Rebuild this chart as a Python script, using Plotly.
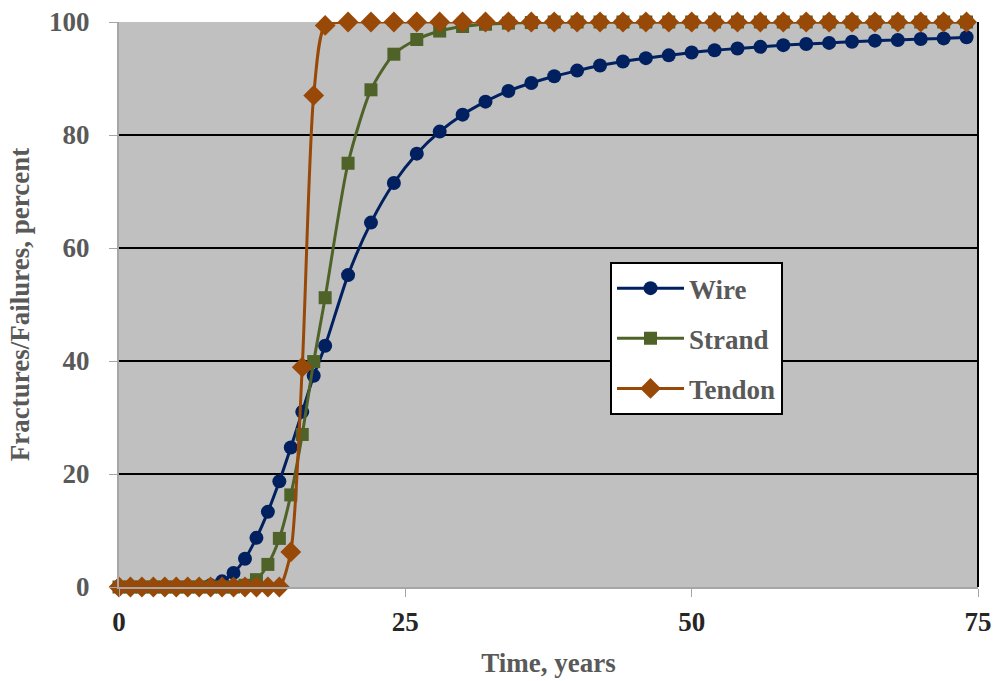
import plotly.graph_objects as go

years = list(range(0, 19)) + list(range(20, 76, 2))

wire = [0, 0, 0, 0, 0, 0, 0, 0.1, 0.3, 1.0, 2.5, 5.0, 8.7, 13.3, 18.7, 24.7, 31.0, 37.4, 42.7,
        55.2, 64.5, 71.5, 76.7, 80.6, 83.6, 85.9, 87.8, 89.2, 90.4, 91.4, 92.3, 93.0, 93.6,
        94.1, 94.6, 95.0, 95.3, 95.6, 95.9, 96.1, 96.3, 96.5, 96.7, 96.8, 97.0, 97.1, 97.3]

strand = [0, 0, 0, 0, 0, 0, 0, 0, 0, 0, 0, 0.3, 1.3, 4.0, 8.6, 16.3, 27.0, 39.9, 51.2,
          75.0, 88.0, 94.3, 96.9, 98.4, 99.2, 99.6, 99.8, 99.9] + [100] * 19

tendon = [0] * 15 + [6.2, 38.9, 87.0, 99.4] + [100] * 28

series_names = ["Wire", "Strand", "Tendon"]
x_ticks = [0, 25, 50, 75]
y_ticks = [0, 20, 40, 60, 80, 100]

FONT = "Liberation Serif"
GRAY = "#595959"
FS = 27

styles = [
    dict(color="#002060", symbol="circle", size=14),
    dict(color="#4F6228", symbol="square", size=13),
    dict(color="#984807", symbol="diamond", size=16),
]

fig = go.Figure()
for i, (name, vals, st) in enumerate(zip(series_names, [wire, strand, tendon], styles)):
    fig.add_trace(go.Scatter(
        x=years, y=vals, name=name, mode="lines+markers",
        line=dict(color=st["color"], width=3, shape="spline", smoothing=0.7),
        marker=dict(color=st["color"], symbol=st["symbol"], size=st["size"], line=dict(width=0)),
        cliponaxis=False, legendgroup=f"g{i}",
    ))

fig.update_layout(
    width=999, height=681,
    margin=dict(l=119, r=21, t=22, b=94),
    paper_bgcolor="white", plot_bgcolor="#C0C0C0",
    font=dict(family=FONT, size=FS, color=GRAY),
    showlegend=True,
    legend=dict(
        x=0.5716, y=0.575, xanchor="left", yanchor="top",
        bgcolor="white", bordercolor="black", borderwidth=2,
        font=dict(family=FONT, size=FS, color=GRAY, weight="bold"),
        tracegroupgap=12, itemwidth=67,
    ),
    xaxis=dict(
        range=[0, 75], tickvals=x_ticks, ticktext=[str(v) for v in x_ticks],
        automargin=False,
        showgrid=False, zeroline=False, showline=True, linecolor="#A6A6A6", linewidth=2,
        ticks="outside", ticklen=8, tickcolor="#A6A6A6", tickwidth=1,
        tickfont=dict(family=FONT, size=FS, color="#262626", weight="bold"),
        ticklabelstandoff=2,
        title=dict(text="<b>Time, years</b>", font=dict(family=FONT, size=FS, color=GRAY), standoff=17),
    ),
    yaxis=dict(
        range=[0, 100], tickvals=y_ticks, ticktext=[str(v) for v in y_ticks],
        automargin=False,
        showgrid=True, gridcolor="black", gridwidth=2,
        zeroline=False, showline=True, linecolor="#A6A6A6", linewidth=2,
        ticks="outside", ticklen=8, tickcolor="#A6A6A6", tickwidth=1,
        tickfont=dict(family=FONT, size=FS, color=GRAY, weight="bold"),
        ticklabelstandoff=14,
        title=dict(text="<b>Fractures/Failures, percent</b>", font=dict(family=FONT, size=FS, color=GRAY), standoff=12),
    ),
)

fig.add_shape(type="line", xref="paper", yref="paper", x0=1, x1=1, y0=0, y1=1,
              line=dict(color="black", width=2), layer="below")

fig.write_html("out.html")
